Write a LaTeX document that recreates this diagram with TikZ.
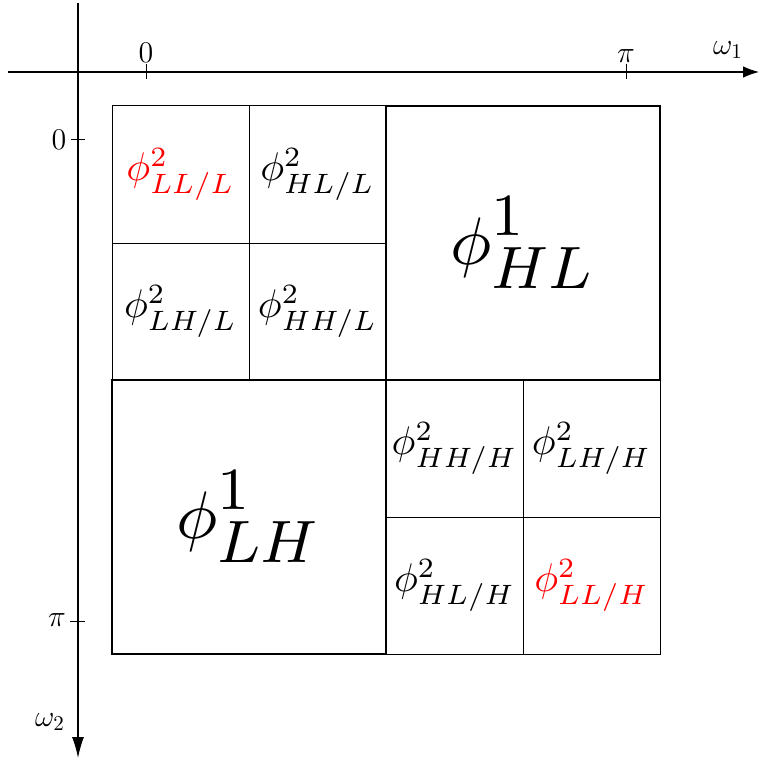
\RequirePackage{fix-cm}
\documentclass[tikz,border=0pt]{standalone}
\usepackage{graphicx}
\usetikzlibrary{arrows.meta}
\DeclareMathSizes{9}{9}{8}{6}
\DeclareMathSizes{15}{15}{10.5}{7.5}
\newcommand{\smalllab}[1]{\scalebox{2.0}{$#1$}}
\newcommand{\biglab}[1]{\scalebox{3.74}{$#1$}}
\tikzset{
  cell/.style={draw, line width=0.5pt, minimum size=68.5pt, inner sep=0pt, font=\fontsize{10}{12}\selectfont},
  bigcell/.style={draw, line width=0.55pt, minimum size=137pt, inner sep=0pt, font=\fontsize{9}{11}\selectfont},
  axlab/.style={inner sep=0pt, font=\fontsize{15}{18}\selectfont},
  axline/.style={line width=0.6pt},
  tickline/.style={line width=0.5pt}
}
\begin{document}
\begin{tikzpicture}[x=0.5pt, y=-0.5pt]
\useasboundingbox (0,0) rectangle (759,759);
% axes
\coordinate (xs) at (8,72);
\coordinate (xe) at (759,72);
\coordinate (ys) at (78,3);
\coordinate (ye) at (78,758);
\draw[axline, -{Latex[length=8pt,width=5.8pt]}] (xs) -- (xe);
\draw[axline, -{Latex[length=10.5pt,width=6pt]}] (ys) -- (ye);
% ticks
\coordinate (tx0) at (146,72);
\coordinate (txp) at (626,72);
\coordinate (ty0) at (78,140);
\coordinate (typ) at (78,621);
\draw[tickline] ([yshift=4pt]tx0) -- ([yshift=-3.5pt]tx0);
\draw[tickline] ([yshift=4pt]txp) -- ([yshift=-3.5pt]txp);
\draw[tickline] ([xshift=-3.5pt]ty0) -- ([xshift=3.5pt]ty0);
\draw[tickline] ([xshift=-4pt]typ) -- ([xshift=3.5pt]typ);
% axis labels
\node[axlab] (l0x) at (146,53) {$0$};
\node[axlab] (lpx) at (626,56) {$\pi$};
\node[axlab] (lw1) at (728,50) {$\omega_1$};
\node[axlab] (l0y) at (59,140) {$0$};
\node[axlab] (lpy) at (57,620) {$\pi$};
\node[axlab] (lw2) at (50,722) {$\omega_2$};
% big cells
\node[bigcell] (HL) at (523,243) {\biglab{\phi^1_{HL}}};
\node[bigcell] (LH) at (249,517) {\biglab{\phi^1_{LH}}};
% small cells top-left
\node[cell, text=red] (LLL) at (180.5,174.5) {\smalllab{\phi^2_{LL/L}}};
\node[cell] (HLL) at (317.5,174.5) {\smalllab{\phi^2_{HL/L}}};
\node[cell] (LHL) at (180.5,311.5) {\smalllab{\phi^2_{LH/L}}};
\node[cell] (HHL) at (317.5,311.5) {\smalllab{\phi^2_{HH/L}}};
% small cells bottom-right
\node[cell] (HHH) at (454.5,448.5) {\smalllab{\phi^2_{HH/H}}};
\node[cell] (LHH) at (591.5,448.5) {\smalllab{\phi^2_{LH/H}}};
\node[cell] (HLH) at (454.5,585.5) {\smalllab{\phi^2_{HL/H}}};
\node[cell, text=red] (LLH) at (591.5,585.5) {\smalllab{\phi^2_{LL/H}}};
\end{tikzpicture}
\end{document}
